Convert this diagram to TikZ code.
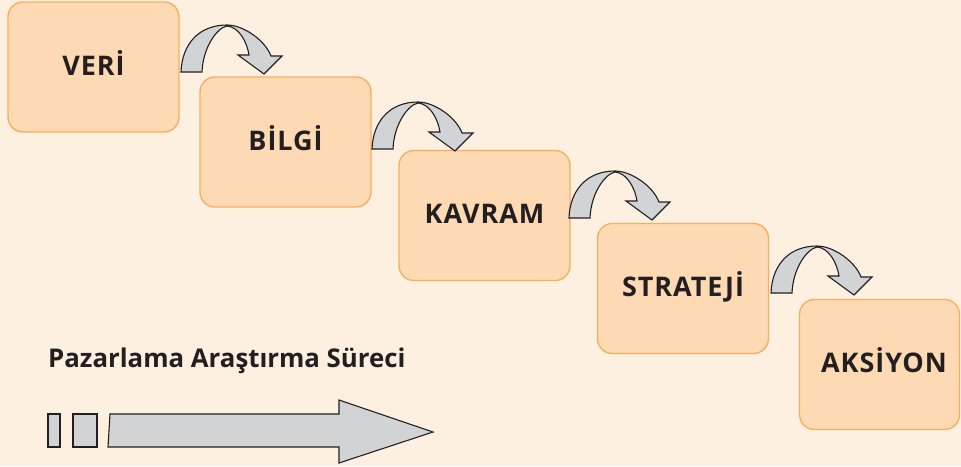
\documentclass[tikz,border=0pt]{standalone}
\usepackage{fontspec}
\setmainfont{Open Sans}
\newfontfamily\spacedfont[LetterSpace=3.5]{Open Sans}
\definecolor{bgc}{HTML}{FDF0E1}
\definecolor{boxfill}{HTML}{FDDAB3}
\definecolor{boxline}{HTML}{F8AE60}
\definecolor{arrfill}{HTML}{D1D3D4}
\definecolor{ink}{HTML}{231F20}
\tikzset{
  stepbox/.style={draw=boxline, fill=boxfill, line width=1.4pt, rounded corners=15pt,
    minimum width=171pt, minimum height=130pt, inner sep=0pt,
    text=ink, font=\spacedfont\bfseries\fontsize{27}{31}\selectfont, text height=19pt, text depth=3pt},
  grayshape/.style={draw=ink, fill=arrfill, line width=1.1pt, line join=miter},
  curvearrow/.pic={
    \draw[grayshape] (0,0) .. controls (1,-28) and (18,-47) .. (46,-47)
      .. controls (62,-47) and (84,-32) .. (90,-16) -- (101,-16) -- (83,2) -- (57,-17) -- (68,-17)
      .. controls (66,-30) and (58,-45) .. (46,-46)
      .. controls (36,-44) and (22,-25) .. (21,0) -- cycle;
  }
}
\begin{document}
\begin{tikzpicture}[x=1pt,y=-1pt]
\fill[bgc] (0,0) rectangle (961,466);
\useasboundingbox (0,0) rectangle (961,466);
\node[stepbox] (b1) at (93.5,67) {VERİ};
\node[stepbox] (b2) at (285.5,142) {BİLGİ};
\node[stepbox] (b3) at (484.5,215.5) {KAVRAM};
\node[stepbox] (b4) at (683,288.5) {STRATEJİ};
\node[stepbox, minimum width=160pt] (b5) at (879.5,364.5) {\hspace*{9pt}AKSİYON};
\pic at (181,72) {curvearrow};
\pic at (372,149) {curvearrow};
\pic at (569,218) {curvearrow};
\pic at (771,293) {curvearrow};
\node[anchor=base west, inner sep=0pt, text=ink, font=\bfseries\fontsize{25.8}{30}\selectfont] (title) at (48,367) {Pazarlama Araştırma Süreci};
\draw[grayshape] (48,414) rectangle (60,447);
\draw[grayshape] (73,414) rectangle (97,447);
\draw[grayshape] (110,414) -- (339,414) -- (339,400) -- (433,432) -- (339,463) -- (339,447) -- (108,447) -- cycle;
\end{tikzpicture}
\end{document}
